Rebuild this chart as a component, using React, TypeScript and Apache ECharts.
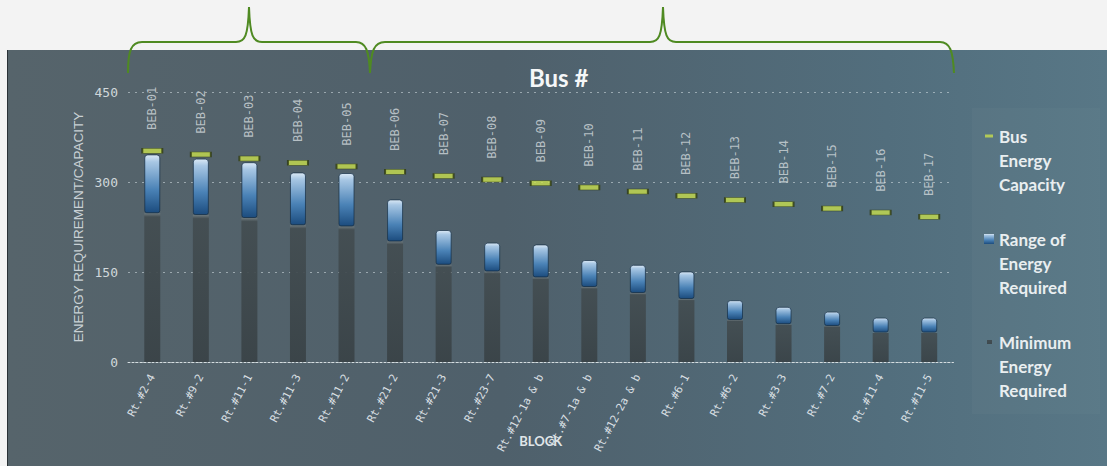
import { useEffect, useRef } from "react";
import * as echarts from "echarts";

// Route blocks along the category axis
const blocks = [
  "Rt.#2-4", "Rt.#9-2", "Rt.#11-1", "Rt.#11-3", "Rt.#11-2", "Rt.#21-2", "Rt.#21-3",
  "Rt.#23-7", "Rt.#12-1a & b", "Rt.#7-1a & b", "Rt.#12-2a & b", "Rt.#6-1", "Rt.#6-2",
  "Rt.#3-3", "Rt.#7-2", "Rt.#11-4", "Rt.#11-5",
];

// Bus assigned to each block
const busIds = [
  "BEB-01", "BEB-02", "BEB-03", "BEB-04", "BEB-05", "BEB-06", "BEB-07", "BEB-08", "BEB-09",
  "BEB-10", "BEB-11", "BEB-12", "BEB-13", "BEB-14", "BEB-15", "BEB-16", "BEB-17",
];

// Energy figures (kWh)
const capacity = [352, 346, 339, 332, 326, 317, 310, 304, 298, 291, 284, 277, 270, 263, 256, 249, 242];
const maxEnergy = [346, 339, 333, 316, 315, 271, 220, 199, 196, 170, 162, 151, 103, 92, 84, 74, 74];
const minEnergy = [248, 245, 240, 228, 226, 201, 162, 151, 141, 125, 115, 105, 70, 63, 60, 49, 49];

const yTicks = { min: 0, max: 450, interval: 150 };

const SERIES_CAP = "Bus Energy Capacity";
const SERIES_RANGE = "Range of Energy Required";
const SERIES_MIN = "Minimum Energy Required";

// Legend entries wrap onto three lines; two leading blank lines keep the
// icon level with the first line of text.
const legendLines: Record<string, string> = {
  [SERIES_CAP]: "\n\nBus\nEnergy\nCapacity",
  [SERIES_RANGE]: "\n\nRange of\nEnergy\nRequired",
  [SERIES_MIN]: "\n\nMinimum\nEnergy\nRequired",
};

// Curly braces grouping the buses above the plot
const leftBracePath =
  "M128,73 C128,51 131,42 142,42 L236,42 C245,42 248,36 249,7 C250,36 253,42 262,42 L356,42 C366,42 369,51 370,73";
const rightBracePath =
  "M370,73 C371,51 374,42 385,42 L650,42 C659,42 662,36 663,7 C664,36 667,42 676,42 L940,42 C950,42 953,51 954,73";

echarts.graphic.registerShape("leftBrace", echarts.graphic.extendPath(leftBracePath, {}));
echarts.graphic.registerShape("rightBrace", echarts.graphic.extendPath(rightBracePath, {}));

const capIcon = "path://M0,0L0.01,0M1,3.5L9,3.5L9,6.5L1,6.5ZM10,10L9.99,10";
const minIcon = "path://M0,0L0.01,0M3,3L8,3L8,7L3,7ZM10,10L9.99,10";

export default function App() {
  const ref = useRef<HTMLDivElement>(null);

  useEffect(() => {
    if (!ref.current) return;
    const chart = echarts.init(ref.current, null, { renderer: "svg" });

    const rangeValues = maxEnergy.map((v, i) => v - minEnergy[i]);

    chart.setOption({
      animation: false,
      backgroundColor: "#f3f3f3",
      title: {
        text: "Bus #",
        left: 529,
        top: 65,
        padding: 0,
        textStyle: { color: "#f5f7f8", fontSize: 24, fontWeight: "bold", fontFamily: "Lato" },
      },
      graphic: [
        {
          type: "rect",
          z: -10,
          silent: true,
          shape: { x: 7, y: 50, width: 1100, height: 416 },
          style: {
            fill: new echarts.graphic.LinearGradient(0, 0, 1, 0, [
              { offset: 0, color: "#56646b" },
              { offset: 0.45, color: "#4f606b" },
              { offset: 0.8, color: "#526e7d" },
              { offset: 1, color: "#587786" },
            ]),
          },
        },
        {
          type: "line",
          z: -9,
          silent: true,
          shape: { x1: 7.5, y1: 50, x2: 7.5, y2: 466 },
          style: { stroke: "#2a3236", lineWidth: 1 },
        },
        {
          type: "rect",
          z: -9,
          silent: true,
          shape: { x: 972, y: 108, width: 128, height: 306 },
          style: { fill: "rgba(255,255,255,0.025)" },
        },
        {
          type: "leftBrace",
          z: 10,
          silent: true,
          style: { fill: "none", stroke: "#4f8a22", lineWidth: 2 },
        },
        {
          type: "rightBrace",
          z: 10,
          silent: true,
          style: { fill: "none", stroke: "#4f8a22", lineWidth: 2 },
        },
      ],
      legend: {
        orient: "vertical",
        left: 984,
        top: 76,
        padding: 0,
        itemGap: -17,
        itemWidth: 10,
        itemHeight: 10,
        selectedMode: false,
        data: [
          { name: SERIES_CAP, icon: capIcon },
          { name: SERIES_RANGE, icon: "rect" },
          { name: SERIES_MIN, icon: minIcon },
        ],
        formatter: (name: string) => legendLines[name] ?? name,
        itemStyle: { borderWidth: 0 },
        textStyle: {
          color: "#e9eef0",
          fontSize: 17,
          fontWeight: "bold",
          fontFamily: "Lato",
          lineHeight: 24,
        },
      },
      grid: { left: 128, right: 153.5, top: 92, bottom: 104, outerBoundsMode: "none" },
      xAxis: {
        type: "category",
        data: blocks,
        name: "BLOCK",
        nameLocation: "middle",
        nameGap: 72,
        nameMoveOverlap: false,
        nameTextStyle: { color: "#e0e6e9", fontSize: 13, fontFamily: "Lato", fontWeight: "bold" },
        axisLine: { lineStyle: { color: "#d5dde0", type: [2, 2], width: 1 } },
        axisTick: { show: false },
        axisLabel: {
          interval: 0,
          rotate: 62,
          margin: 13,
          color: "#d8dfe2",
          fontSize: 11,
          fontFamily: "DejaVu Sans Mono",
        },
      },
      yAxis: {
        type: "value",
        min: yTicks.min,
        max: yTicks.max,
        interval: yTicks.interval,
        name: "ENERGY REQUIREMENT/CAPACITY",
        nameLocation: "middle",
        nameGap: 43,
        nameMoveOverlap: false,
        nameTextStyle: { color: "#c9d1d5", fontSize: 13.5, fontFamily: "Liberation Sans" },
        axisLine: { show: false },
        axisTick: { show: false },
        axisLabel: { color: "#d0d7da", fontSize: 13, fontFamily: "DejaVu Sans Mono", margin: 10 },
        splitLine: { lineStyle: { color: "rgba(215,225,230,0.55)", type: [2, 5], width: 1 } },
      },
      series: [
        {
          name: SERIES_MIN,
          type: "bar",
          stack: "energy",
          barWidth: 16,
          data: minEnergy,
          itemStyle: {
            color: new echarts.graphic.LinearGradient(0, 0, 0, 1, [
              { offset: 0, color: "#6f7a7e" },
              { offset: 0.025, color: "#434d51" },
              { offset: 1, color: "#394246" },
            ]),
            opacity: 0.92,
          },
        },
        {
          name: SERIES_RANGE,
          type: "bar",
          stack: "energy",
          barWidth: 16,
          data: rangeValues,
          itemStyle: {
            color: new echarts.graphic.LinearGradient(0, 0, 0, 1, [
              { offset: 0, color: "#dbe9f5" },
              { offset: 0.12, color: "#a8c7e4" },
              { offset: 0.6, color: "#4a82b6" },
              { offset: 1, color: "#1c4c7e" },
            ]),
            borderColor: "rgba(20,45,70,0.7)",
            borderWidth: 1,
            borderRadius: [3, 3, 2, 2],
          },
        },
        {
          name: SERIES_CAP,
          type: "scatter",
          data: capacity,
          symbol: "rect",
          symbolSize: [20, 5],
          z: 5,
          itemStyle: { color: "#c8df4e", borderColor: "#2e3a12", borderWidth: 1 },
          label: {
            show: true,
            position: "top",
            distance: 18,
            rotate: 90,
            align: "left",
            verticalAlign: "middle",
            color: "#d3dadd",
            fontSize: 12,
            fontFamily: "DejaVu Sans Mono",
            formatter: (p: any) => busIds[p.dataIndex],
          },
        },
      ],
    });

    return () => chart.dispose();
  }, []);

  return (
    <div
      ref={ref}
      style={{ position: "absolute", left: 0, top: 0, width: 1107, height: 466 }}
    />
  );
}
